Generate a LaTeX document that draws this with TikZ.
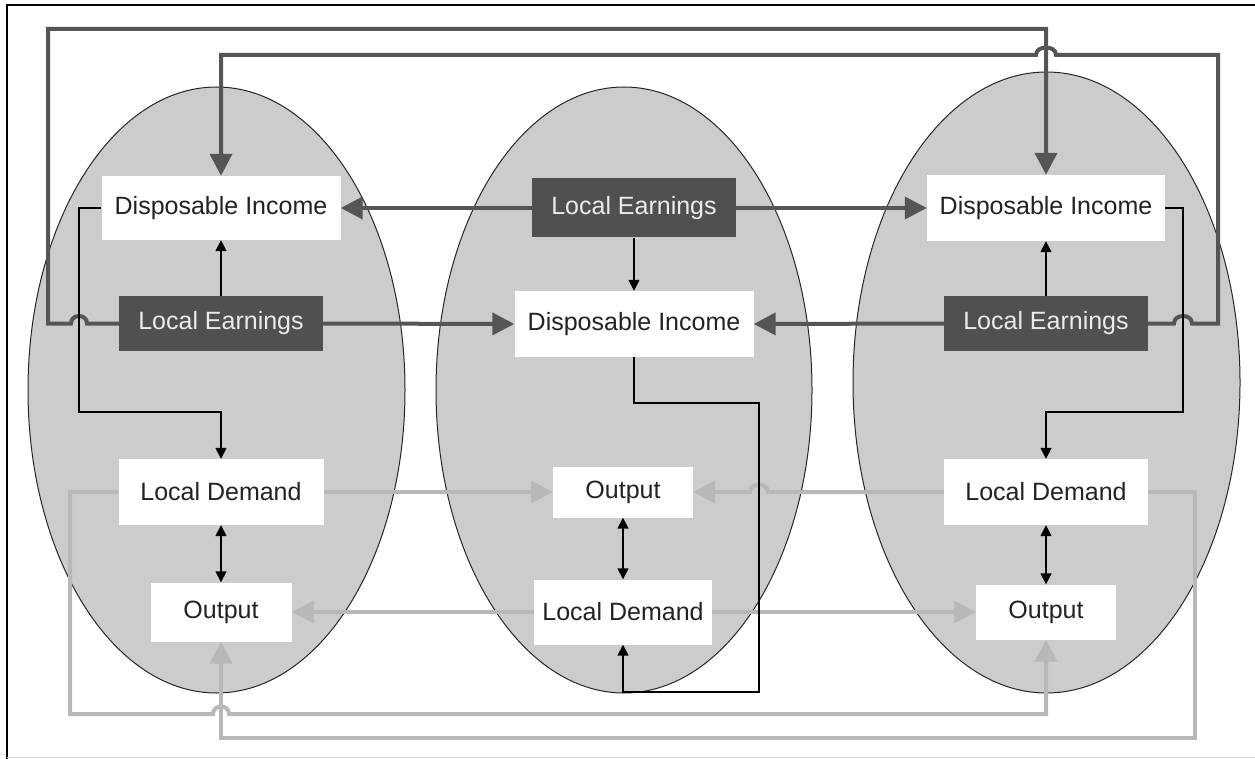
\documentclass[tikz,border=0pt]{standalone}
\usepackage{fontspec}
\setmainfont{Liberation Sans}
\usetikzlibrary{arrows.meta}
\definecolor{ellfill}{HTML}{CCCCCC}
\definecolor{darkbox}{HTML}{505050}
\definecolor{darkline}{HTML}{555555}
\definecolor{grayline}{HTML}{B8B8B8}
\definecolor{txt}{HTML}{222222}
\begin{document}
\begin{tikzpicture}[x=1pt,y=-1pt,
  region/.style={draw=black!85, line width=1pt, fill=ellfill},
  boxfont/.style={font=\fontsize{25}{30}\selectfont},
  whitebox/.style={boxfont, fill=white, text=txt, inner sep=0pt},
  darkbx/.style={boxfont, fill=darkbox, text=white!92!black, inner sep=0pt},
  heavylink/.style={draw=darkline, line width=4pt, -{Triangle[width=22pt,length=22pt]}},
  graylink/.style={draw=grayline, line width=4pt, -{Triangle[width=22pt,length=22pt]}},
  thinlink/.style={draw=black, line width=1.6pt, -{Triangle[width=11pt,length=11pt]}},
  bothlink/.style={draw=black, line width=1.6pt, {Triangle[width=11pt,length=11pt]}-{Triangle[width=11pt,length=11pt]}}
]
\useasboundingbox (0,0) rectangle (1255,759);
% frame
\draw[line width=2.5pt] (7,759) -- (7,5) -- (1255,5);
\draw[black!15, line width=1pt] (7,757.5) -- (1255,757.5);
% regions
\draw[region] (216.5,390) ellipse [x radius=188.5, y radius=303];
\draw[region] (624,390) ellipse [x radius=188, y radius=303];
\draw[region] (1046.5,382.5) ellipse [x radius=193.5, y radius=310.5];
% left region
\node[whitebox, minimum width=239pt, minimum height=64pt] (DI1) at (221,208) {Disposable Income};
\node[darkbx, minimum width=204pt, minimum height=55pt] (LE1) at (221,323.5) {Local Earnings};
\node[whitebox, minimum width=205pt, minimum height=66pt] (LD1) at (221,492) {Local Demand};
\node[whitebox, minimum width=141pt, minimum height=59pt] (OUT1) at (221,612) {Output};
% middle region
\node[darkbx, minimum width=204pt, minimum height=59pt] (LE2) at (634,208) {Local Earnings};
\node[whitebox, minimum width=239pt, minimum height=66pt] (DI2) at (634,324) {Disposable Income};
\node[whitebox, minimum width=140pt, minimum height=51pt] (OUT2) at (623,492) {Output};
\node[whitebox, minimum width=178pt, minimum height=65pt] (LD2) at (623,612) {Local Demand};
% right region
\node[whitebox, minimum width=238pt, minimum height=66pt] (DI3) at (1046,208) {Disposable Income};
\node[darkbx, minimum width=204pt, minimum height=55pt] (LE3) at (1046,323.5) {Local Earnings};
\node[whitebox, minimum width=204pt, minimum height=66pt] (LD3) at (1046,492) {Local Demand};
\node[whitebox, minimum width=140pt, minimum height=55pt] (OUT3) at (1046,612) {Output};
% heavy earnings links
\draw[heavylink] (LE1.west) -- (87,323.5) .. controls (87,313.5) and (71,313.5) .. (71,323.5) -- (48,323.5) -- (48,29) -| (DI3.north);
\draw[heavylink] (LE3.east) -- (1174,323.5) .. controls (1174,313.5) and (1192,313.5) .. (1192,323.5) -- (1218,323.5) -- (1218,55) -- (1056,55) .. controls (1056,45) and (1036,45) .. (1036,55) -| (DI1.north);
\draw[heavylink] (LE2.west) -- (DI1.east);
\draw[heavylink] (LE2.east) -- (DI3.west);
\draw[heavylink] (LE1.east) -- (DI2.west);
\draw[heavylink] (LE3.west) -- (DI2.east);
% gray output links
\draw[graylink] (LD1.east) -- (OUT2.west);
\draw[graylink] (LD3.west) -- (768,492) .. controls (768,482) and (750,482) .. (750,492) -- (OUT2.east);
\draw[graylink] (LD2.west) -- (OUT1.east);
\draw[graylink] (LD2.east) -- (OUT3.west);
\draw[graylink] (LD1.west) -- (70,492) -- (70,714) -- (213,714) .. controls (213,704) and (229,704) .. (229,714) -| (OUT3.south);
\draw[graylink] (LD3.east) -- (1195,492) -- (1195,738) -| (OUT1.south);
% thin links
\draw[thinlink] (LE1.north) -- (DI1.south);
\draw[thinlink] (LE2.south) -- (DI2.north);
\draw[thinlink] (LE3.north) -- (DI3.south);
\draw[thinlink] (DI1.west) -- (79,208) -- (79,412) -| (LD1.north);
\draw[thinlink] (DI3.east) -- (1183,208) -- (1183,412) -| (LD3.north);
\draw[thinlink] (DI2.south) -- (634,403) -- (759,403) -- (759,692) -| (LD2.south);
\draw[bothlink] (LD1.south) -- (OUT1.north);
\draw[bothlink] (OUT2.south) -- (LD2.north);
\draw[bothlink] (LD3.south) -- (OUT3.north);
\end{tikzpicture}
\end{document}
